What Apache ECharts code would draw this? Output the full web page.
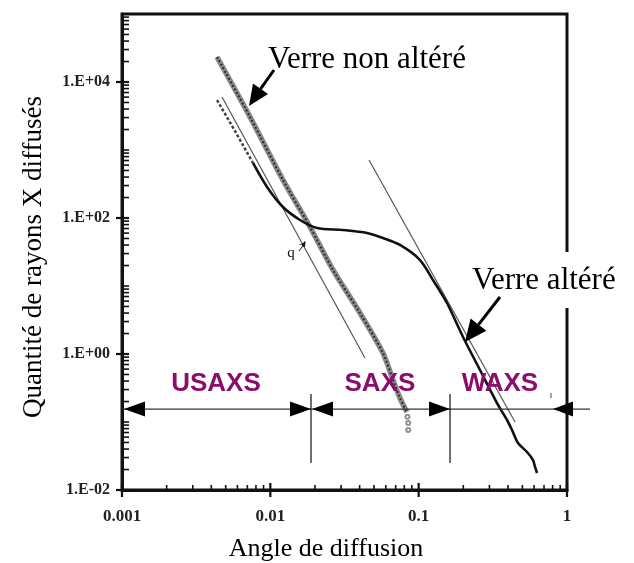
<!DOCTYPE html>
<html><head><meta charset="utf-8">
<script src="https://cdn.jsdelivr.net/npm/echarts@6/dist/echarts.min.js"></script>
<style>html,body{margin:0;padding:0;background:#fff}#c{width:634px;height:563px}</style>
</head><body><div id="c"></div>
<script>
// ---------- data ----------
const xTickValues = [0.001, 0.01, 0.1, 1];
const xTickLabels = ['0.001', '0.01', '0.1', '1'];
const yTickValues = [0.01, 1, 100, 10000];
const yTickLabels = ['1.E-02', '1.E+00', '1.E+02', '1.E+04'];
const yDecades = [0.01, 0.1, 1, 10, 100, 1000, 10000, 100000];
const minorMultipliers = [2, 3, 4, 5, 6, 7, 8, 9];

// Verre non altéré (sound glass)
const sainAngle     = [0.00437, 0.0073, 0.01217, 0.01851, 0.02646, 0.04023, 0.05748, 0.06714, 0.07482, 0.08344];
const sainIntensity = [23300, 3055, 362, 73.8, 17.2, 4.0, 1.03, 0.415, 0.225, 0.140];
const sainTailAngle     = [0.084, 0.085, 0.085];
const sainTailIntensity = [0.119, 0.0966, 0.0762];

// Verre altéré (altered glass) – dotted USAXS part then solid
const altDotAngle     = [0.00437, 0.005777, 0.007643];
const altDotIntensity = [5435, 1903, 644];
const altAngle     = [0.007643, 0.009497, 0.01217, 0.01585, 0.02064, 0.0309, 0.04484, 0.05748, 0.07482, 0.1021, 0.125, 0.1552, 0.1991, 0.2591, 0.3375, 0.3941, 0.4258, 0.4674, 0.5376, 0.5901, 0.6087, 0.6281];
const altIntensity = [644, 286, 145, 93.5, 71.3, 66.6, 60.2, 50.8, 40.1, 24.1, 12.2, 5.62, 1.78, 0.582, 0.19, 0.107, 0.0762, 0.0491, 0.0362, 0.0276, 0.0218, 0.0178];

// q^-4 guide lines
const guideAAngle = [0.004722, 0.04346];
const guideAIntensity = [6017, 0.873];
const guideBAngle = [0.04627, 0.4462];
const guideBIntensity = [713, 0.1];

// Domains
const regionNames = ['USAXS', 'SAXS', 'WAXS'];
const regionLabelAngle = [0.0043, 0.0548, 0.353];
const regionLabelLevel = 0.362;
const regionBounds = [0.001, 0.0188, 0.1627];
const arrowLevel = 0.155;
const markerTop = 0.258, markerBottom = 0.025;
const lineEndAngle = 1.43, rightArrowAngle = 0.805;

const zip = (a, b) => a.map((v, i) => [v, b[i]]);

const xTicks = [];
xTickValues.forEach((d, i) => {
  xTicks.push([d, 0.01, 1]);
  if (i < xTickValues.length - 1) minorMultipliers.forEach(m => xTicks.push([d * m, 0.01, 0]));
});
const yTicks = [];
yDecades.forEach((d, i) => {
  const major = yTickValues.some(v => Math.abs(Math.log10(v) - Math.log10(d)) < 1e-6);
  yTicks.push([0.001, d, major ? 1 : 0]);
  if (i < yDecades.length - 1) minorMultipliers.forEach(m => yTicks.push([0.001, d * m, 0]));
});

function tickRenderer(axis) {
  return function (params, api) {
    const p = api.coord([api.value(0), api.value(1)]);
    const major = api.value(2) === 1;
    let shape;
    if (axis === 'x') shape = major ? {x1: p[0], y1: p[1] - 7, x2: p[0], y2: p[1] + 7} : {x1: p[0], y1: p[1] - 5, x2: p[0], y2: p[1]};
    else shape = major ? {x1: p[0] - 6, y1: p[1], x2: p[0] + 7, y2: p[1]} : {x1: p[0], y1: p[1], x2: p[0] + 7, y2: p[1]};
    return {type: 'line', shape: shape, style: {stroke: '#111', lineWidth: major ? 2.2 : 1.6}};
  };
}

const labelFont = 'Liberation Serif, Times New Roman, serif';
const chart = echarts.init(document.getElementById('c'), null, {renderer: 'canvas'});
chart.setOption({
  animation: false,
  backgroundColor: '#fff',
  grid: {left: 122, right: 67, top: 14, bottom: 73, show: true, borderColor: '#111', borderWidth: 3, backgroundColor: 'transparent'},
  xAxis: {
    type: 'log', logBase: 10, min: 0.001, max: 1, splitNumber: 3,
    axisLine: {show: true, lineStyle: {color: '#111', width: 3}},
    axisTick: {show: false}, splitLine: {show: false},
    axisLabel: {
      margin: 18, color: '#222', fontFamily: labelFont, fontWeight: 'bold', fontSize: 17,
      formatter: v => { const i = xTickValues.findIndex(t => Math.abs(Math.log10(t) - Math.log10(v)) < 1e-6); return i >= 0 ? xTickLabels[i] : ''; }
    }
  },
  yAxis: {
    type: 'log', logBase: 10, min: 0.01, max: 100000, splitNumber: 7,
    axisLine: {show: true, lineStyle: {color: '#111', width: 3}},
    axisTick: {show: false}, splitLine: {show: false},
    axisLabel: {
      margin: 12, color: '#222', fontFamily: labelFont, fontWeight: 'bold', fontSize: 16,
      formatter: v => { const i = yTickValues.findIndex(t => Math.abs(Math.log10(t) - Math.log10(v)) < 1e-6); return i >= 0 ? yTickLabels[i] : ''; }
    }
  },
  series: [
    {type: 'custom', name: 'xTicks', data: xTicks, renderItem: tickRenderer('x'), encode: {x: 0, y: 1}, silent: true, z: 5},
    {type: 'custom', name: 'yTicks', data: yTicks, renderItem: tickRenderer('y'), encode: {x: 0, y: 1}, silent: true, z: 5},
    {type: 'line', name: 'Guide A', data: zip(guideAAngle, guideAIntensity), showSymbol: false, lineStyle: {color: '#555', width: 1.2}, z: 2},
    {type: 'line', name: 'Guide B', data: zip(guideBAngle, guideBIntensity), showSymbol: false, lineStyle: {color: '#555', width: 1.2}, z: 2},
    {type: 'line', name: 'Verre non altéré', data: zip(sainAngle, sainIntensity), smooth: 0.3, showSymbol: false, lineStyle: {color: '#8a8a8a', width: 5.5}, z: 3},
    {type: 'line', name: 'Verre non altéré (texture)', data: zip(sainAngle, sainIntensity), smooth: 0.3, showSymbol: false, lineStyle: {color: '#2b2b2b', width: 2, type: [2, 2]}, z: 4},
    {type: 'scatter', name: 'Verre non altéré (fin)', data: zip(sainTailAngle, sainTailIntensity), symbol: 'emptyCircle', symbolSize: 4, itemStyle: {color: '#777', borderColor: '#777', borderWidth: 1}, z: 4},
    {type: 'line', name: 'Verre altéré (USAXS)', data: zip(altDotAngle, altDotIntensity), showSymbol: false, lineStyle: {color: '#444', width: 2.5, type: [3, 2]}, z: 3},
    {type: 'line', name: 'Verre altéré', data: zip(altAngle, altIntensity), smooth: 0.3, showSymbol: false, lineStyle: {color: '#111', width: 2.6}, z: 4}
  ]
});

// ---------- annotations ----------
const P = (x, y) => chart.convertToPixel({xAxisIndex: 0, yAxisIndex: 0}, [x, y]);
const g = [];
function arrowHead(tx, ty, dir, len, half) {
  return {type: 'polygon', z: 100, shape: {points: [[tx, ty], [tx - dir * len, ty - half], [tx - dir * len, ty + half]]}, style: {fill: '#000'}};
}
const a0 = P(regionBounds[0], arrowLevel), a1 = P(regionBounds[1], arrowLevel), a2 = P(regionBounds[2], arrowLevel);
const aEnd = P(lineEndAngle, arrowLevel), aR = P(rightArrowAngle, arrowLevel);
g.push({type: 'line', z: 100, shape: {x1: a0[0], y1: a0[1], x2: aEnd[0], y2: aEnd[1]}, style: {stroke: '#333', lineWidth: 1.2}});
[1, 2].forEach(i => {
  const t = P(regionBounds[i], markerTop), b = P(regionBounds[i], markerBottom);
  g.push({type: 'line', z: 100, shape: {x1: t[0], y1: t[1], x2: b[0], y2: b[1]}, style: {stroke: '#222', lineWidth: 1.3}});
});
g.push(arrowHead(a0[0] + 2, a0[1], -1, 21, 7.5));
g.push(arrowHead(a1[0], a1[1], 1, 21, 7.5));
g.push(arrowHead(a1[0] + 1, a1[1], -1, 21, 7.5));
g.push(arrowHead(a2[0], a2[1], 1, 21, 7.5));
g.push(arrowHead(aR[0], aR[1], -1, 20, 7.5));
const tk1 = P(0.78, 0.267), tk2 = P(0.78, 0.225);
g.push({type: 'line', z: 100, shape: {x1: tk1[0], y1: tk1[1], x2: tk2[0], y2: tk2[1]}, style: {stroke: '#444', lineWidth: 1}});
regionNames.forEach((n, i) => {
  const p = P(regionLabelAngle[i], regionLabelLevel);
  g.push({type: 'text', z: 100, x: p[0], y: p[1], style: {text: n, fill: '#8c0d6e', font: 'bold 26px "Liberation Sans", Arial, sans-serif', textAlign: 'center', textVerticalAlign: 'middle'}});
});

// curve labels with arrows
const serif = '"Liberation Serif", "Times New Roman", serif';
g.push({type: 'text', z: 100, x: 268, y: 60, style: {text: 'Verre non altéré', fill: '#000', font: '31px ' + serif, textAlign: 'left', textVerticalAlign: 'middle'}});
g.push({type: 'line', z: 100, shape: {x1: 274, y1: 70, x2: 260.6, y2: 88.8}, style: {stroke: '#000', lineWidth: 3}});
g.push({type: 'polygon', z: 100, shape: {points: [[249, 106], [268, 94], [253, 83.6]]}, style: {fill: '#000'}});

g.push({type: 'rect', z: 99, shape: {x: 559, y: 252, width: 16, height: 56}, style: {fill: '#fff'}});
g.push({type: 'text', z: 100, x: 472, y: 281, style: {text: 'Verre altéré', fill: '#000', font: '31px ' + serif, textAlign: 'left', textVerticalAlign: 'middle'}});
g.push({type: 'line', z: 100, shape: {x1: 500, y1: 297, x2: 478.5, y2: 324.6}, style: {stroke: '#000', lineWidth: 3}});
g.push({type: 'polygon', z: 100, shape: {points: [[465, 342], [486.4, 330.7], [470.6, 318.5]]}, style: {fill: '#000'}});

// q^-4
g.push({type: 'text', z: 100, x: 291, y: 253, style: {text: 'q', fill: '#111', font: '15px ' + serif, textAlign: 'center', textVerticalAlign: 'middle'}});
g.push({type: 'text', z: 100, x: 299, y: 245, style: {text: '-4', fill: '#111', font: '8px ' + serif, textAlign: 'left', textVerticalAlign: 'middle'}});
g.push({type: 'line', z: 100, shape: {x1: 299, y1: 251, x2: 305, y2: 243}, style: {stroke: '#111', lineWidth: 1}});
g.push({type: 'polygon', z: 100, shape: {points: [[306, 242], [301, 244], [304, 247]]}, style: {fill: '#111'}});

// axis titles
g.push({type: 'text', z: 100, x: 326, y: 549, style: {text: 'Angle de diffusion', fill: '#000', font: '26px ' + serif, textAlign: 'center', textVerticalAlign: 'middle'}});
g.push({type: 'text', z: 100, x: 34, y: 257, rotation: Math.PI / 2, style: {text: 'Quantité de rayons X diffusés', fill: '#000', font: '27px ' + serif, textAlign: 'center', textVerticalAlign: 'middle'}});

chart.setOption({graphic: g});
</script></body></html>
